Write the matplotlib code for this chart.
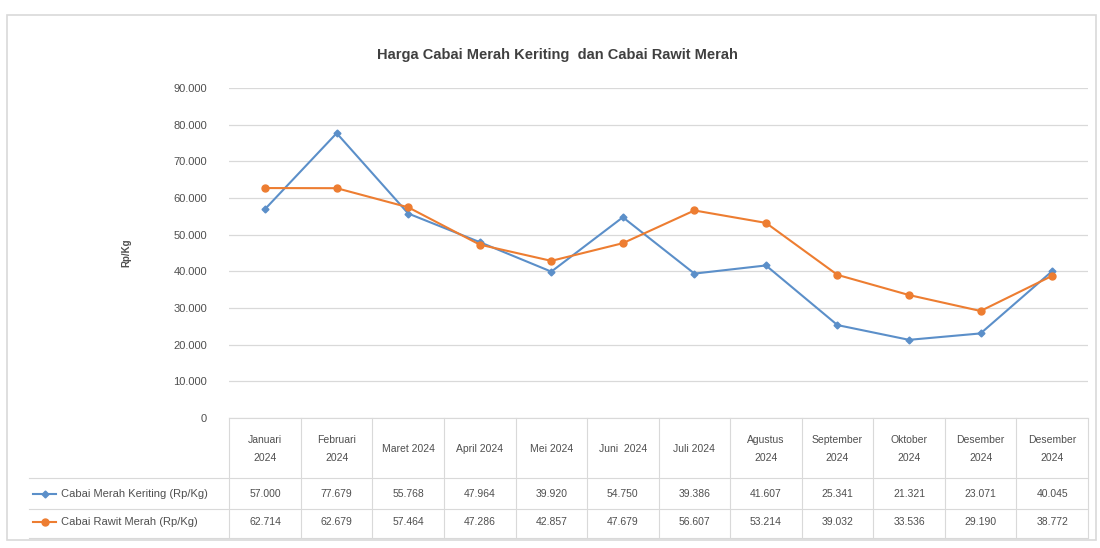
import numpy as np
import matplotlib
matplotlib.use("Agg")
import matplotlib.pyplot as plt
from matplotlib.patches import Rectangle

bulan = ["Januari\n2024", "Februari\n2024", "Maret 2024", "April 2024", "Mei 2024",
         "Juni  2024", "Juli 2024", "Agustus\n2024", "September\n2024",
         "Oktober\n2024", "Desember\n2024", "Desember\n2024"]
keriting = [57000, 77679, 55768, 47964, 39920, 54750, 39386, 41607, 25341, 21321, 23071, 40045]
rawit = [62714, 62679, 57464, 47286, 42857, 47679, 56607, 53214, 39032, 33536, 29190, 38772]
nama_seri = ["Cabai Merah Keriting (Rp/Kg)", "Cabai Rawit Merah (Rp/Kg)"]
judul = "Harga Cabai Merah Keriting  dan Cabai Rawit Merah"
y_ticks = [0, 10000, 20000, 30000, 40000, 50000, 60000, 70000, 80000, 90000]

plt.rcParams['font.family'] = ['Liberation Sans', 'DejaVu Sans']

BIRU = '#5B8FC9'
ORANYE = '#ED7D31'
TEKS = '#4F4F4F'
GARIS = '#D9D9D9'


def rp(v):
    # Indonesian thousands separator
    if v == 0:
        return "0"
    return f"{v:,}".replace(",", ".")


fig = plt.figure(figsize=(11, 5.48), dpi=100)
fig.patch.set_facecolor('white')
fig.patches.append(Rectangle((0.006, 0.015), 0.99, 0.957, transform=fig.transFigure,
                             fill=False, ec=GARIS, lw=1.2))

ax = fig.add_axes([0.2085, 0.2372, 0.7805, 0.6022])
x = np.arange(len(bulan))

ax.plot(x, keriting, color=BIRU, lw=1.5, marker='D', ms=3.5, label=nama_seri[0], zorder=3)
ax.plot(x, rawit, color=ORANYE, lw=1.5, marker='o', ms=5, label=nama_seri[1], zorder=3)

ax.set_xlim(-0.5, len(bulan) - 0.5)
ax.set_ylim(0, 90000)
ax.set_yticks(y_ticks)
ax.set_yticklabels([rp(v) for v in y_ticks], fontsize=8, color=TEKS)
ax.set_xticks([])
ax.grid(True, 'major', 'y', color=GARIS, lw=0.9)
ax.set_axisbelow(True)
for s in ['top', 'right', 'left']:
    ax.spines[s].set_visible(False)
ax.spines['bottom'].set_color(GARIS)
ax.tick_params(axis='y', length=0, pad=16)

ax.set_ylabel("Rp/Kg", fontsize=7, fontweight='bold', color=TEKS, labelpad=30)
fig.suptitle(judul, x=0.507, y=0.912, fontsize=10.5, fontweight='bold', color='#404040')

# data table under the plot
tr = ax.get_xaxis_transform()
ax_h = 0.6022 * 5.48 * 100  # axis height in px


def ay(py):
    # pixel offset below axis bottom -> axes fraction
    return -py / ax_h

baris_y = [ay(31), ay(76), ay(104)]
batas_y = [0, ay(60), ay(91), ay(120)]

for i, lbl in enumerate(bulan):
    ax.text(i, baris_y[0], lbl, transform=tr, ha='center', va='center',
            fontsize=7.5, color=TEKS, linespacing=2.1, clip_on=False)
    ax.text(i, baris_y[1], rp(keriting[i]), transform=tr, ha='center', va='center',
            fontsize=7.5, color=TEKS, clip_on=False)
    ax.text(i, baris_y[2], rp(rawit[i]), transform=tr, ha='center', va='center',
            fontsize=7.5, color=TEKS, clip_on=False)

# vertical cell borders
for i in range(len(bulan) + 1):
    ax.plot([i - 0.5, i - 0.5], [0, batas_y[-1]], transform=tr, color=GARIS,
            lw=0.8, clip_on=False)
# horizontal cell borders, rows extend into the legend column
x_kiri = -3.3
for b in batas_y[1:]:
    ax.plot([x_kiri, len(bulan) - 0.5], [b, b], transform=tr, color=GARIS,
            lw=0.8, clip_on=False)

# legend keys in the table rows
for row, warna, mk, ms, nama in [(1, BIRU, 'D', 3.5, nama_seri[0]),
                                 (2, ORANYE, 'o', 5, nama_seri[1])]:
    ax.plot([x_kiri + 0.06, x_kiri + 0.38], [baris_y[row]] * 2, transform=tr,
            color=warna, lw=1.5, clip_on=False)
    ax.plot([x_kiri + 0.22], [baris_y[row]], transform=tr, color=warna,
            marker=mk, ms=ms, clip_on=False)
    ax.text(x_kiri + 0.45, baris_y[row], nama, transform=tr, ha='left', va='center',
            fontsize=8, color=TEKS, clip_on=False)

fig.savefig("out.png", dpi=100, facecolor='white')
